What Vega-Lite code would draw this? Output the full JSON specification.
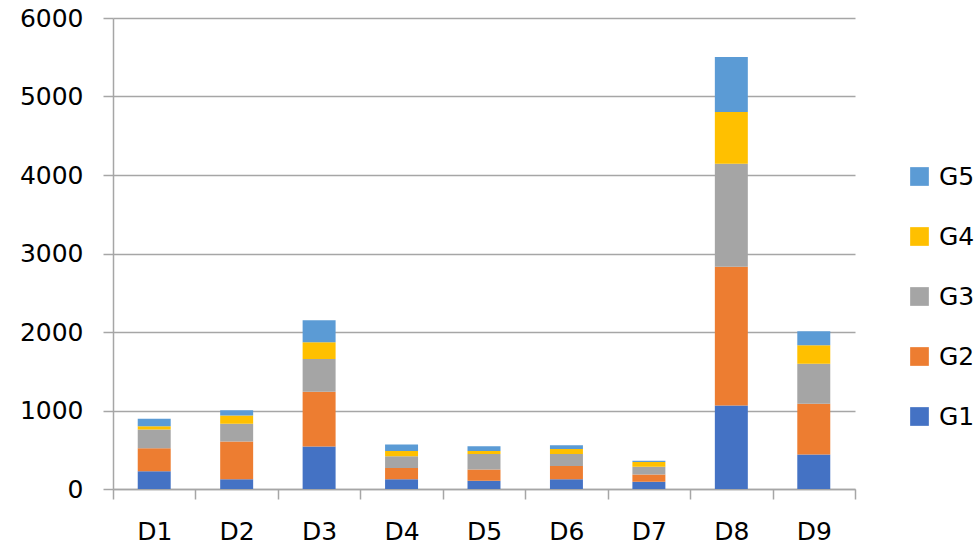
{
  "$schema": "https://vega.github.io/schema/vega-lite/v6.json",
  "width": 742,
  "height": 471,
  "autosize": "none",
  "padding": {"left": 113, "top": 18, "right": 125, "bottom": 61},
  "background": "white",
  "data": {
    "values": [
      {"d": "D1", "g": "G1", "v": 225}, {"d": "D1", "g": "G2", "v": 294}, {"d": "D1", "g": "G3", "v": 238}, {"d": "D1", "g": "G4", "v": 43}, {"d": "D1", "g": "G5", "v": 94},
      {"d": "D2", "g": "G1", "v": 123}, {"d": "D2", "g": "G2", "v": 481}, {"d": "D2", "g": "G3", "v": 226}, {"d": "D2", "g": "G4", "v": 106}, {"d": "D2", "g": "G5", "v": 68},
      {"d": "D3", "g": "G1", "v": 540}, {"d": "D3", "g": "G2", "v": 699}, {"d": "D3", "g": "G3", "v": 416}, {"d": "D3", "g": "G4", "v": 213}, {"d": "D3", "g": "G5", "v": 282},
      {"d": "D4", "g": "G1", "v": 123}, {"d": "D4", "g": "G2", "v": 145}, {"d": "D4", "g": "G3", "v": 150}, {"d": "D4", "g": "G4", "v": 65}, {"d": "D4", "g": "G5", "v": 83},
      {"d": "D5", "g": "G1", "v": 106}, {"d": "D5", "g": "G2", "v": 144}, {"d": "D5", "g": "G3", "v": 197}, {"d": "D5", "g": "G4", "v": 38}, {"d": "D5", "g": "G5", "v": 59},
      {"d": "D6", "g": "G1", "v": 123}, {"d": "D6", "g": "G2", "v": 171}, {"d": "D6", "g": "G3", "v": 153}, {"d": "D6", "g": "G4", "v": 64}, {"d": "D6", "g": "G5", "v": 46},
      {"d": "D7", "g": "G1", "v": 93}, {"d": "D7", "g": "G2", "v": 93}, {"d": "D7", "g": "G3", "v": 99}, {"d": "D7", "g": "G4", "v": 58}, {"d": "D7", "g": "G5", "v": 18},
      {"d": "D8", "g": "G1", "v": 1064}, {"d": "D8", "g": "G2", "v": 1766}, {"d": "D8", "g": "G3", "v": 1312}, {"d": "D8", "g": "G4", "v": 660}, {"d": "D8", "g": "G5", "v": 700},
      {"d": "D9", "g": "G1", "v": 438}, {"d": "D9", "g": "G2", "v": 648}, {"d": "D9", "g": "G3", "v": 510}, {"d": "D9", "g": "G4", "v": 234}, {"d": "D9", "g": "G5", "v": 179}
    ]
  },
  "mark": {"type": "bar", "width": {"band": 0.4}},
  "encoding": {
    "x": {
      "field": "d",
      "type": "nominal",
      "scale": {"paddingInner": 0, "paddingOuter": 0},
      "axis": {
        "title": null,
        "labelAngle": 0,
        "tickBand": "extent",
        "tickSize": 10,
        "tickColor": "#a6a6a6",
        "tickWidth": 1.5,
        "domainColor": "#a6a6a6",
        "domainWidth": 1.5,
        "labelPadding": 20,
        "labelFontSize": 25,
        "labelFont": "DejaVu Sans",
        "labelColor": "black"
      }
    },
    "y": {
      "field": "v",
      "type": "quantitative",
      "aggregate": "sum",
      "stack": "zero",
      "scale": {"domain": [0, 6000], "nice": false},
      "axis": {
        "title": null,
        "format": "d",
        "values": [0, 1000, 2000, 3000, 4000, 5000, 6000],
        "grid": true,
        "gridColor": "#a6a6a6",
        "gridWidth": 1.5,
        "tickSize": 10,
        "tickColor": "#a6a6a6",
        "tickWidth": 1.5,
        "domainColor": "#a6a6a6",
        "domainWidth": 1.5,
        "labelPadding": 20,
        "labelFontSize": 25,
        "labelFont": "DejaVu Sans",
        "labelColor": "black"
      }
    },
    "color": {
      "field": "g",
      "type": "nominal",
      "scale": {
        "domain": ["G5", "G4", "G3", "G2", "G1"],
        "range": ["#5B9BD5", "#FFC000", "#A5A5A5", "#ED7D31", "#4472C4"]
      },
      "legend": {
        "title": null,
        "orient": "none",
        "legendX": 794,
        "legendY": 146,
        "symbolType": "square",
        "symbolSize": 350,
        "symbolStrokeWidth": 0,
        "labelFontSize": 25,
        "labelFont": "DejaVu Sans",
        "labelColor": "black",
        "labelOffset": 7,
        "rowPadding": 34,
        "padding": 0
      }
    },
    "order": {"field": "g", "sort": "ascending"}
  },
  "config": {"view": {"stroke": null}}
}
